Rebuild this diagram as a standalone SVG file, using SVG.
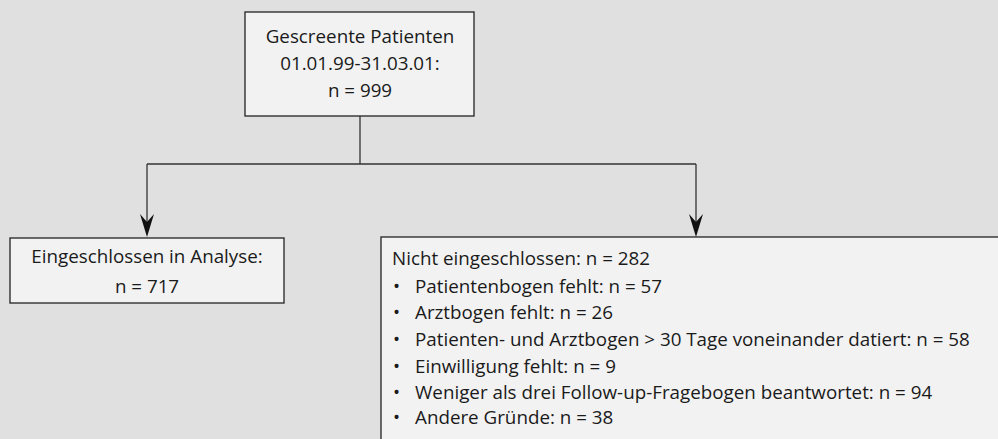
<svg xmlns="http://www.w3.org/2000/svg" width="998" height="439" viewBox="0 0 998 439">
<style>
.box{fill:#f2f2f2;stroke:#222;stroke-width:1.3}
.t{font-family:"Open Sans","Noto Sans",sans-serif;font-size:18.8px;fill:#1a1a1a}
.c{text-anchor:middle}
.ln{fill:none;stroke:#333;stroke-width:1.3}
</style>
<rect width="998" height="439" fill="#e0e0e0"/>
<g id="connectors">
<path class="ln" d="M360,116 V164"/>
<path class="ln" d="M147,164 H696"/>
<path class="ln" d="M147,164 V222"/>
<path class="ln" d="M696,164 V222"/>
<path d="M140,214 L147,222 L154,214 L147,237 Z" fill="#111"/>
<path d="M689,214 L696,222 L703,214 L696,237 Z" fill="#111"/>
</g>
<g id="top">
<rect class="box" x="245" y="12" width="229" height="104"/>
<text class="t c" x="360" y="43">Gescreente Patienten</text>
<text class="t c" x="360" y="70">01.01.99-31.03.01:</text>
<text class="t c" x="360" y="97">n = 999</text>
</g>
<g id="included">
<rect class="box" x="10" y="238" width="274" height="65"/>
<text class="t c" x="147" y="263">Eingeschlossen in Analyse:</text>
<text class="t c" x="147" y="293">n = 717</text>
</g>
<g id="excluded">
<rect class="box" x="381" y="237" width="640" height="230"/>
<text class="t" x="392" y="265">Nicht eingeschlossen: n = 282</text>
<g>
<text class="t" x="393" y="293">•</text><text class="t" x="415" y="293">Patientenbogen fehlt: n = 57</text>
<text class="t" x="393" y="319">•</text><text class="t" x="415" y="319">Arztbogen fehlt: n = 26</text>
<text class="t" x="393" y="346">•</text><text class="t" x="415" y="346">Patienten- und Arztbogen &gt; 30 Tage voneinander datiert: n = 58</text>
<text class="t" x="393" y="373">•</text><text class="t" x="415" y="373">Einwilligung fehlt: n = 9</text>
<text class="t" x="393" y="399">•</text><text class="t" x="415" y="399">Weniger als drei Follow-up-Fragebogen beantwortet: n = 94</text>
<text class="t" x="393" y="424">•</text><text class="t" x="415" y="424">Andere Gründe: n = 38</text>
</g>
</g>
</svg>
